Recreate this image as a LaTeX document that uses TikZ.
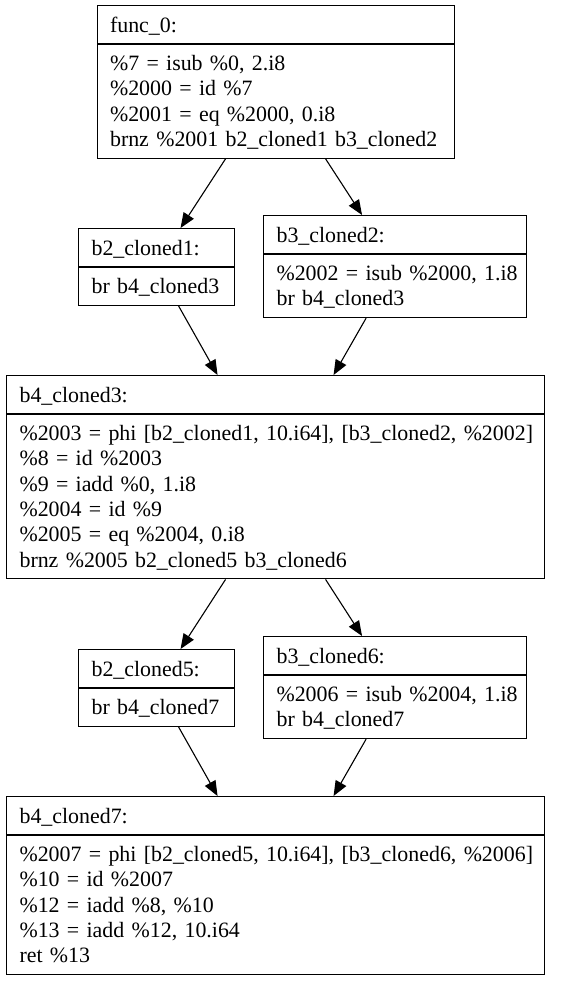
\documentclass[tikz,border=0pt]{standalone}
\usepackage{fontspec}
\setmainfont{Liberation Serif}
\usetikzlibrary{shapes.multipart,arrows.meta}
\newcommand{\codeln}[1]{\mbox{\rule[-5.3bp]{0pt}{25.3bp}#1}}
\begin{document}
\begin{tikzpicture}[x=1bp,y=-1bp,>={Triangle[length=15bp,width=12bp]},
 blk/.style={draw, line width=1.1bp, rectangle split, rectangle split parts=2, anchor=north west,
  inner xsep=13bp, inner ysep=6bp, align=left, font=\fontsize{21.9bp}{25.3bp}\selectfont},
 flow/.style={->, line width=1.1bp}]
 \useasboundingbox (0,0) rectangle (574,989);

 \node[blk, text width=331bp] (f0) at (96.5,5) {\codeln{func\_0:}\nodepart{two}\codeln{\%7 = isub \%0, 2.i8}\\\codeln{\%2000 = id \%7}\\\codeln{\%2001 = eq \%2000, 0.i8}\\\codeln{brnz \%2001 b2\_cloned1 b3\_cloned2}};
 \node[blk, text width=130bp] (b2c1) at (78,228) {\codeln{b2\_cloned1:}\nodepart{two}\codeln{br b4\_cloned3}};
 \node[blk, text width=237bp] (b3c2) at (263,215) {\codeln{b3\_cloned2:}\nodepart{two}\codeln{\%2002 = isub \%2000, 1.i8}\\\codeln{br b4\_cloned3}};
 \node[blk, text width=512bp] (b4c3) at (6,375) {\codeln{b4\_cloned3:}\nodepart{two}\codeln{\%2003 = phi [b2\_cloned1, 10.i64], [b3\_cloned2, \%2002]}\\\codeln{\%8 = id \%2003}\\\codeln{\%9 = iadd \%0, 1.i8}\\\codeln{\%2004 = id \%9}\\\codeln{\%2005 = eq \%2004, 0.i8}\\\codeln{brnz \%2005 b2\_cloned5 b3\_cloned6}};
 \node[blk, text width=130bp] (b2c5) at (78,649) {\codeln{b2\_cloned5:}\nodepart{two}\codeln{br b4\_cloned7}};
 \node[blk, text width=237bp] (b3c6) at (263,636) {\codeln{b3\_cloned6:}\nodepart{two}\codeln{\%2006 = isub \%2004, 1.i8}\\\codeln{br b4\_cloned7}};
 \node[blk, text width=512bp] (b4c7) at (6,796) {\codeln{b4\_cloned7:}\nodepart{two}\codeln{\%2007 = phi [b2\_cloned5, 10.i64], [b3\_cloned6, \%2006]}\\\codeln{\%10 = id \%2007}\\\codeln{\%12 = iadd \%8, \%10}\\\codeln{\%13 = iadd \%12, 10.i64}\\\codeln{ret \%13}};

 \draw[flow]([xshift=-50bp]f0.south)--([xshift=24bp]b2c1.north);
 \draw[flow]([xshift=50bp]f0.south)--([xshift=-33bp]b3c2.north);
 \draw[flow]([xshift=22bp]b2c1.south)--([xshift=-58bp]b4c3.north);
 \draw[flow]([xshift=-29bp]b3c2.south)--([xshift=58bp]b4c3.north);
 \draw[flow]([xshift=-50bp]b4c3.south)--([xshift=24bp]b2c5.north);
 \draw[flow]([xshift=50bp]b4c3.south)--([xshift=-33bp]b3c6.north);
 \draw[flow]([xshift=22bp]b2c5.south)--([xshift=-58bp]b4c7.north);
 \draw[flow]([xshift=-29bp]b3c6.south)--([xshift=58bp]b4c7.north);

\end{tikzpicture}
\end{document}
